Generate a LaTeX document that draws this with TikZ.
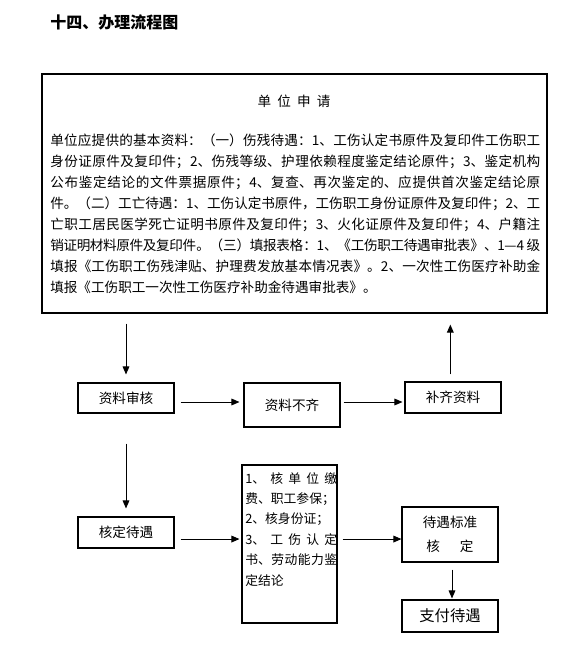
\documentclass[tikz,border=0pt]{standalone}
\usepackage{fontspec}
\newfontfamily\cjk{Noto Sans CJK SC}
\usetikzlibrary{arrows.meta,positioning}
\XeTeXlinebreaklocale "zh"
\XeTeXlinebreakskip=0pt plus 1pt minus 0.5pt

\tikzset{
  box/.style={draw, line width=0.8pt, minimum width=72pt, minimum height=23pt,
    inner sep=0pt, font=\cjk\fontsize{10.2}{12}\selectfont},
  arr/.style={line width=0.75pt, -{Triangle[width=5pt,length=6pt]}},
}

\begin{document}
\begin{tikzpicture}[x=0.75pt,y=-0.75pt]
  \useasboundingbox (0,0) rectangle (584,651);

  \node[anchor=west, inner sep=0pt, font=\cjk\bfseries\fontsize{12}{14}\selectfont] (title) at (50,22) {十四、办理流程图};

  % unit application box
  \node[box, minimum width=378.75pt, minimum height=179.25pt] (sq) at (294.5,193.5) {};
  \node[inner sep=0pt, font=\cjk\fontsize{10.2}{12}\selectfont] (sqt) at (294,101) {单\hspace{4.6pt}位\hspace{4.6pt}申\hspace{4.6pt}请};
  \node[anchor=north west, inner sep=0pt, text width=367.5pt, align=justify,
    font=\cjk\fontsize{10.2}{15.7}\selectfont] (sqp) at (50,134) {单位应提供的基本资料：（一）伤残待遇：1、工伤认定书原件及复印件工伤职工\linebreak
身份证原件及复印件；2、伤残等级、护理依赖程度鉴定结论原件；3、鉴定机构\linebreak
公布鉴定结论的文件票据原件；4、复查、再次鉴定的、应提供首次鉴定结论原\linebreak
件。（二）工亡待遇：1、工伤认定书原件，工伤职工身份证原件及复印件；2、工\linebreak
亡职工居民医学死亡证明书原件及复印件；3、火化证原件及复印件；4、户籍注\linebreak
销证明材料原件及复印件。（三）填报表格：1、《工伤职工待遇审批表》、1—4 级\linebreak
填报《工伤职工伤残津贴、护理费发放基本情况表》。2、一次性工伤医疗补助金\linebreak
填报《工伤职工一次性工伤医疗补助金待遇审批表》。};

  % first row
  \node[box, minimum height=22.5pt] (sh) at (126,398) {资料审核};
  \node[box, minimum height=33pt] (bq) at (292,405) {资料不齐};
  \node[box, minimum height=23.25pt] (bc) at (453,397.5) {补齐资料};

  % second row
  \node[box, minimum height=23.25pt] (hd) at (126,532.5) {核定待遇};
  \node[box, minimum width=71.25pt, minimum height=118.5pt] (hy) at (289.5,544) {};
  \node[anchor=north west, inner sep=0pt, text width=69pt, align=justify,
    font=\cjk\fontsize{9.6}{15.3}\selectfont] (hyt) at (245,472) {1、核单位缴\linebreak
费、职工参保；\\
2、核身份证；\\
3、工伤认定\linebreak
书、劳动能力鉴\linebreak
定结论};
  \node[box, minimum height=41.25pt, align=center,
    font=\cjk\fontsize{10.2}{18}\selectfont] (db) at (450,534.5) {待遇标准\\核\hspace{15pt}定};
  \node[box, minimum height=24pt, font=\cjk\fontsize{11.5}{14}\selectfont] (zf) at (450,616) {支付待遇};

  % connectors
  \draw[arr, shorten <=7.5pt, shorten >=6pt] (sh.north |- sq.south) -- (sh.north);
  \draw[arr, shorten <=5.25pt, shorten >=8.25pt] ([xshift=-2pt]bc.north) -- ([xshift=-2pt]bc.north |- sq.south);
  \draw[arr, shorten <=4.5pt, shorten >=3pt] ([yshift=-3pt]sh.east) -- ([yshift=-3pt]sh.east -| bq.west);
  \draw[arr, shorten <=2.25pt, shorten >=1.5pt] ([yshift=-3pt]sh.east -| bq.east) -- ([yshift=-3pt]sh.east -| bc.west);
  \draw[arr, shorten <=22.5pt, shorten >=6pt] (sh.south) -- (hd.north);
  \draw[arr, shorten <=4.5pt, shorten >=1.5pt] ([yshift=-4.9pt]hd.east) -- ([yshift=-4.9pt]hd.east -| hy.west);
  \draw[arr, shorten <=3.75pt] ([yshift=-4.9pt]hd.east -| hy.east) -- ([yshift=-4.9pt]hd.east -| db.west);
  \draw[arr, shorten <=5.25pt, shorten >=0.75pt] ([xshift=1.5pt]db.south) -- ([xshift=1.5pt]zf.north);
\end{tikzpicture}
\end{document}
